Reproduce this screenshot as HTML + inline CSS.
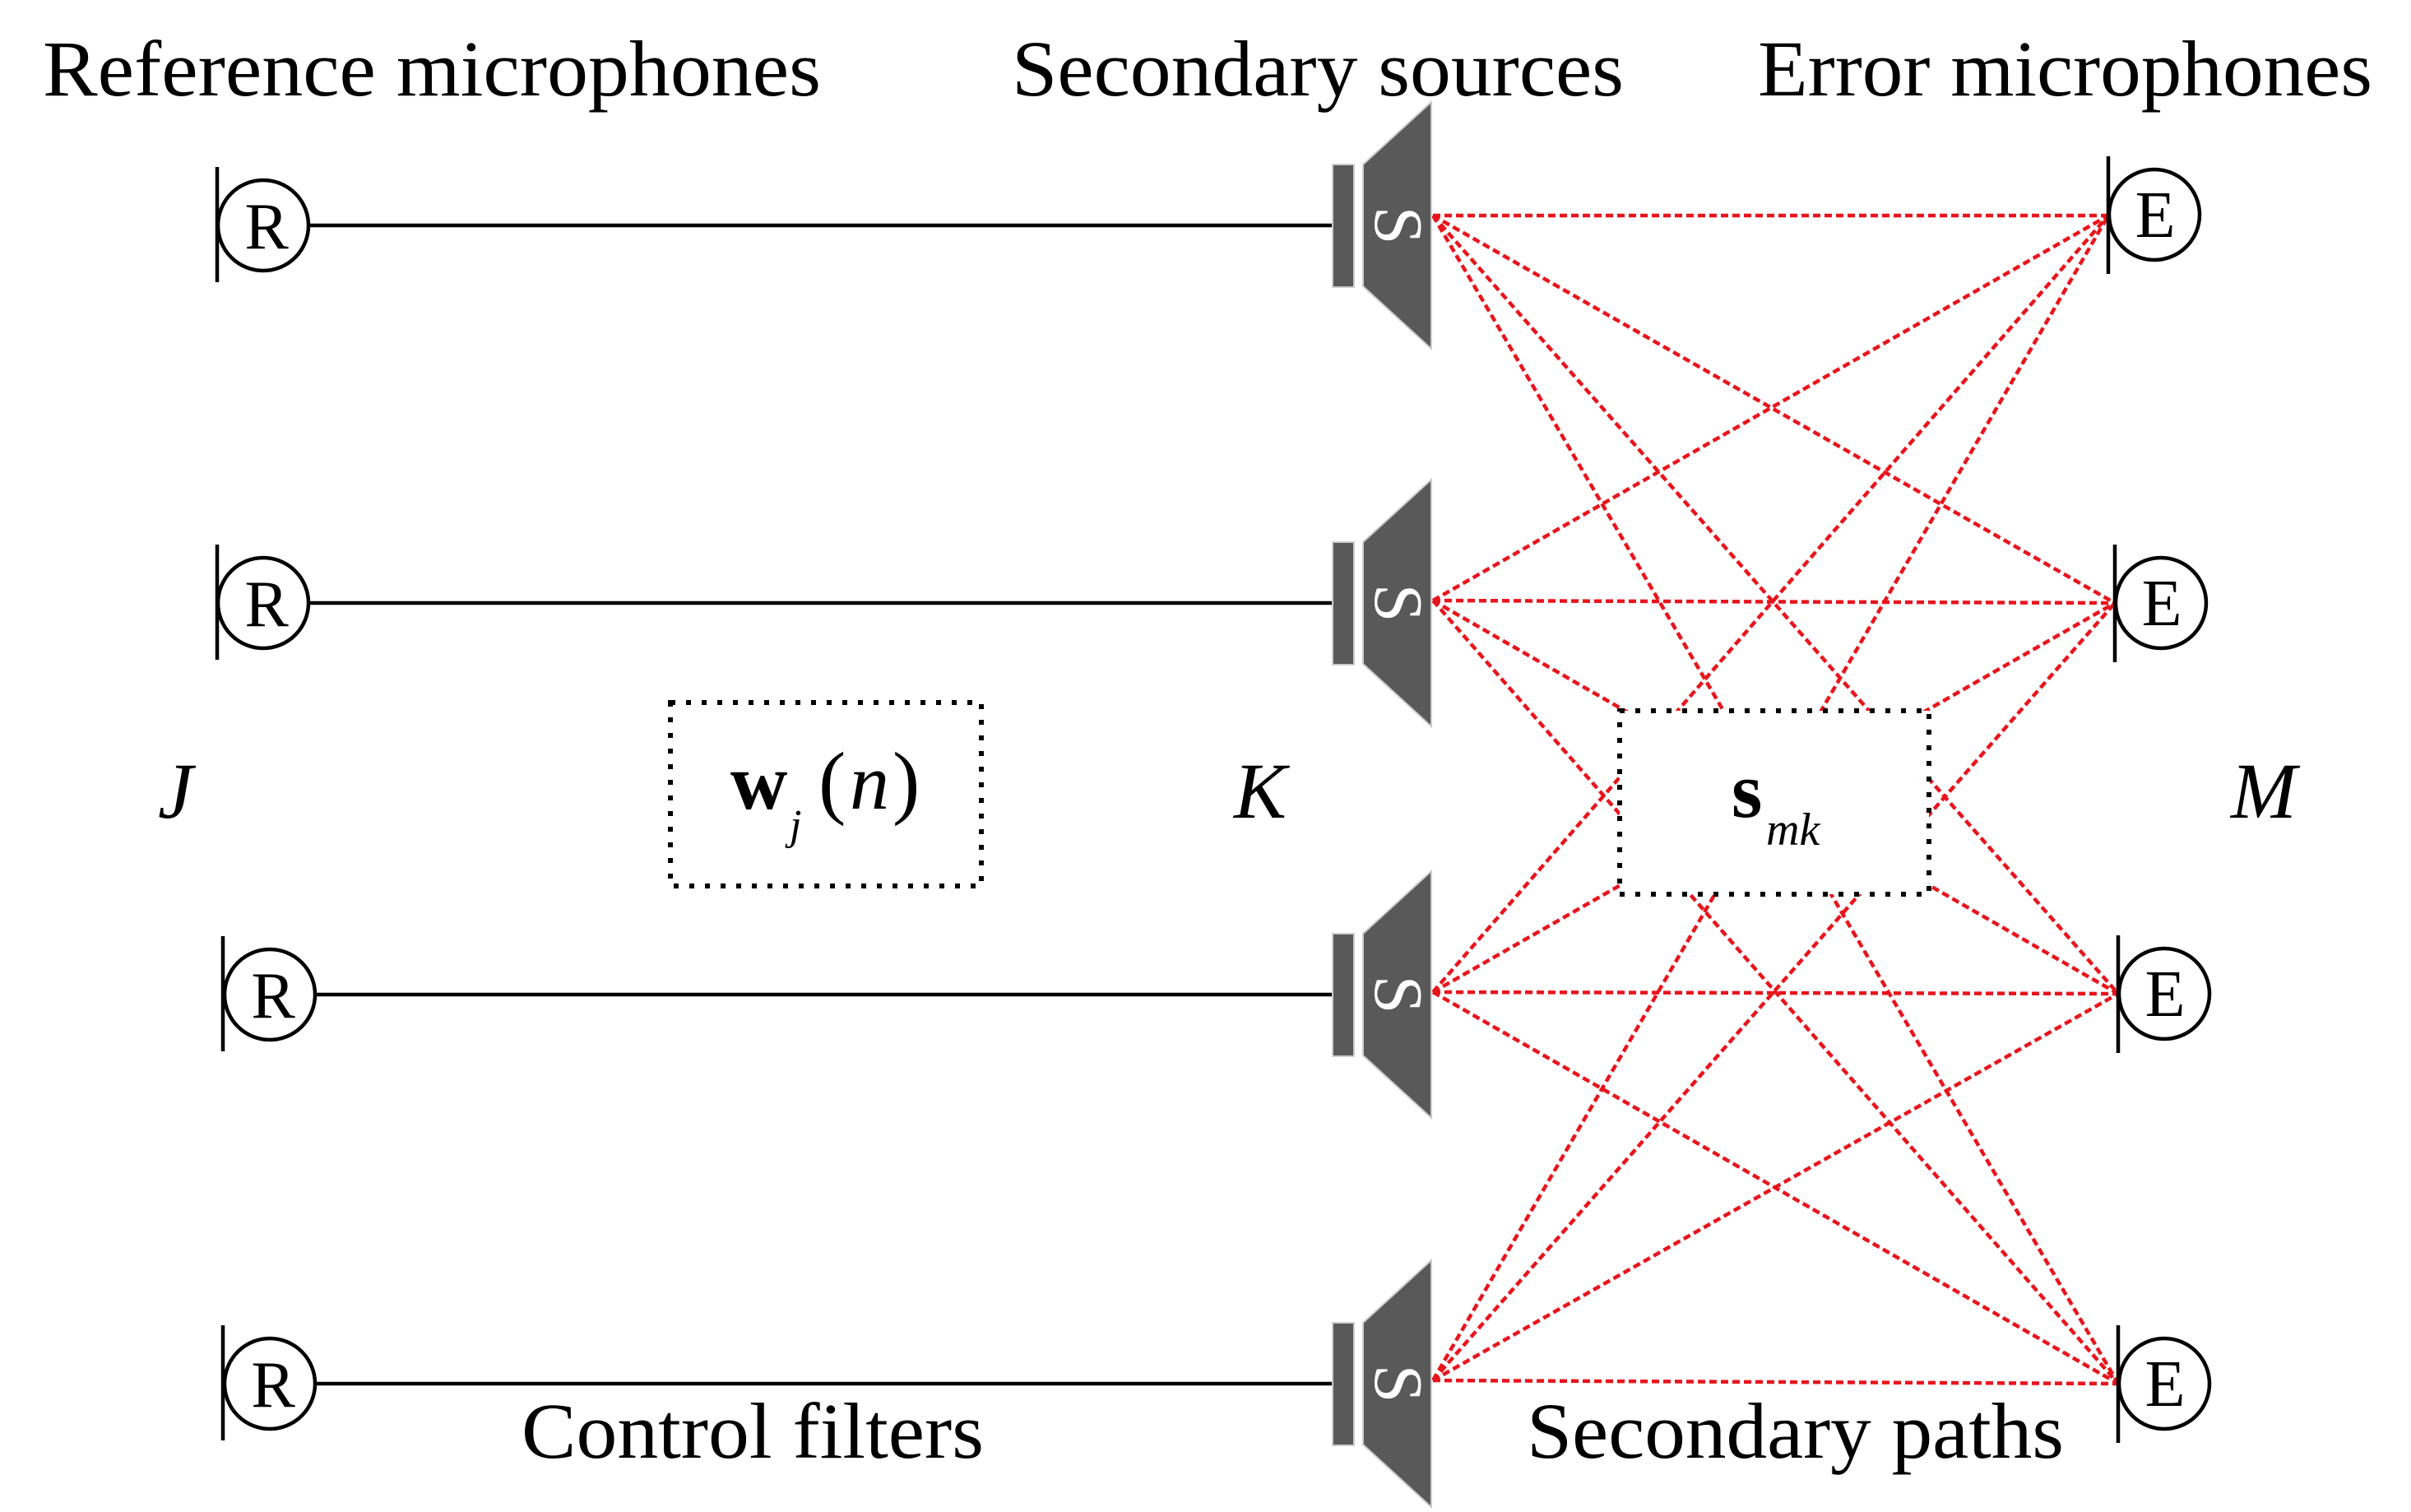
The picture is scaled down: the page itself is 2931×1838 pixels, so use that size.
<!DOCTYPE html>
<html><head><meta charset="utf-8"><style>html,body{margin:0;padding:0;background:#fff}svg{display:block}</style></head>
<body>
<svg width="2931" height="1838" viewBox="0 0 2931 1838" xmlns="http://www.w3.org/2000/svg" font-family="'Liberation Serif', serif">
<rect width="2931" height="1838" fill="#fff"/>
<g stroke="#e8141c" stroke-width="4.5" stroke-dasharray="9 5" fill="none">
<line x1="1742" y1="262" x2="2563" y2="262"/><line x1="1742" y1="262" x2="2571" y2="733"/><line x1="1742" y1="262" x2="2575" y2="1208"/><line x1="1742" y1="262" x2="2575" y2="1682"/>
<line x1="1742" y1="730" x2="2563" y2="262"/><line x1="1742" y1="730" x2="2571" y2="733"/><line x1="1742" y1="730" x2="2575" y2="1208"/><line x1="1742" y1="730" x2="2575" y2="1682"/>
<line x1="1742" y1="1206" x2="2563" y2="262"/><line x1="1742" y1="1206" x2="2571" y2="733"/><line x1="1742" y1="1206" x2="2575" y2="1208"/><line x1="1742" y1="1206" x2="2575" y2="1682"/>
<line x1="1742" y1="1678" x2="2563" y2="262"/><line x1="1742" y1="1678" x2="2571" y2="733"/><line x1="1742" y1="1678" x2="2575" y2="1208"/><line x1="1742" y1="1678" x2="2575" y2="1682"/>
</g>
<rect x="815" y="854" width="378" height="223" fill="#fff" stroke="#000" stroke-width="6" stroke-dasharray="6 13"/>
<rect x="1969" y="864" width="376" height="223" fill="#fff" stroke="#000" stroke-width="6" stroke-dasharray="6 13"/>
<g stroke="#000" stroke-width="4.5">
<line x1="375" y1="274" x2="1620" y2="274"/><line x1="375" y1="733" x2="1620" y2="733"/>
<line x1="383" y1="1209" x2="1620" y2="1209"/><line x1="383" y1="1682" x2="1620" y2="1682"/>
</g>
<g stroke="#000" stroke-width="4.5" fill="#fff">
<line x1="264" y1="203" x2="264" y2="343"/><circle cx="320" cy="274" r="55"/>
<line x1="264" y1="662" x2="264" y2="802"/><circle cx="320" cy="733" r="55"/>
<line x1="271" y1="1138" x2="271" y2="1278"/><circle cx="328" cy="1209" r="55"/>
<line x1="271" y1="1611" x2="271" y2="1751"/><circle cx="328" cy="1682" r="55"/>
</g>
<g font-size="80" text-anchor="middle">
<text x="324" y="302">R</text><text x="324" y="761">R</text><text x="332" y="1237">R</text><text x="332" y="1710">R</text>
</g>
<g stroke="#000" stroke-width="4.5" fill="#fff">
<line x1="2563" y1="190" x2="2563" y2="333"/><circle cx="2619" cy="261" r="55"/>
<line x1="2571" y1="662" x2="2571" y2="805"/><circle cx="2627" cy="733" r="55"/>
<line x1="2575" y1="1137" x2="2575" y2="1280"/><circle cx="2631" cy="1208" r="55"/>
<line x1="2575" y1="1611" x2="2575" y2="1754"/><circle cx="2631" cy="1682" r="55"/>
</g>
<g font-size="80" text-anchor="middle">
<text x="2620" y="288">E</text><text x="2628" y="760">E</text><text x="2632" y="1235">E</text><text x="2632" y="1709">E</text>
</g>
<g transform="translate(0,274)"><rect x="1620" y="-74" width="26" height="149" fill="#595959" stroke="#ccc" stroke-width="2"/><polygon points="1657,-74 1740,-150 1740,150 1657,74" fill="#595959" stroke="#ccc" stroke-width="2"/><text font-size="84" fill="#fff" text-anchor="middle" transform="translate(1700,0) rotate(90)" y="28">S</text></g>
<g transform="translate(0,733)"><rect x="1620" y="-74" width="26" height="149" fill="#595959" stroke="#ccc" stroke-width="2"/><polygon points="1657,-74 1740,-150 1740,150 1657,74" fill="#595959" stroke="#ccc" stroke-width="2"/><text font-size="84" fill="#fff" text-anchor="middle" transform="translate(1700,0) rotate(90)" y="28">S</text></g>
<g transform="translate(0,1209)"><rect x="1620" y="-74" width="26" height="149" fill="#595959" stroke="#ccc" stroke-width="2"/><polygon points="1657,-74 1740,-150 1740,150 1657,74" fill="#595959" stroke="#ccc" stroke-width="2"/><text font-size="84" fill="#fff" text-anchor="middle" transform="translate(1700,0) rotate(90)" y="28">S</text></g>
<g transform="translate(0,1682)"><rect x="1620" y="-74" width="26" height="149" fill="#595959" stroke="#ccc" stroke-width="2"/><polygon points="1657,-74 1740,-150 1740,150 1657,74" fill="#595959" stroke="#ccc" stroke-width="2"/><text font-size="84" fill="#fff" text-anchor="middle" transform="translate(1700,0) rotate(90)" y="28">S</text></g>
<g font-size="96">
<text x="52" y="116" textLength="946" lengthAdjust="spacingAndGlyphs">Reference microphones</text>
<text x="1230" y="116" textLength="744" lengthAdjust="spacingAndGlyphs">Secondary sources</text>
<text x="2137" y="116" textLength="747" lengthAdjust="spacingAndGlyphs">Error microphones</text>
<text x="634" y="1772" textLength="562" lengthAdjust="spacingAndGlyphs">Control filters</text>
<text x="1856" y="1772" textLength="653" lengthAdjust="spacingAndGlyphs">Secondary paths</text>
</g>
<g font-size="96" font-style="italic">
<text x="192" y="994">J</text>
<text x="1500" y="994">K</text>
<text x="2712" y="994">M</text>
</g>
<text x="888" y="983" font-size="96" font-weight="bold">w</text>
<text x="960" y="1020" font-size="52" font-style="italic">j</text>
<text x="995" y="983" font-size="100">(</text>
<text x="1033" y="983" font-size="96" font-style="italic">n</text>
<text x="1085" y="983" font-size="100">)</text>
<text x="2105" y="993" font-size="96" font-weight="bold">s</text>
<text x="2147" y="1027" font-size="56" font-style="italic">mk</text>
</svg>
</body></html>
